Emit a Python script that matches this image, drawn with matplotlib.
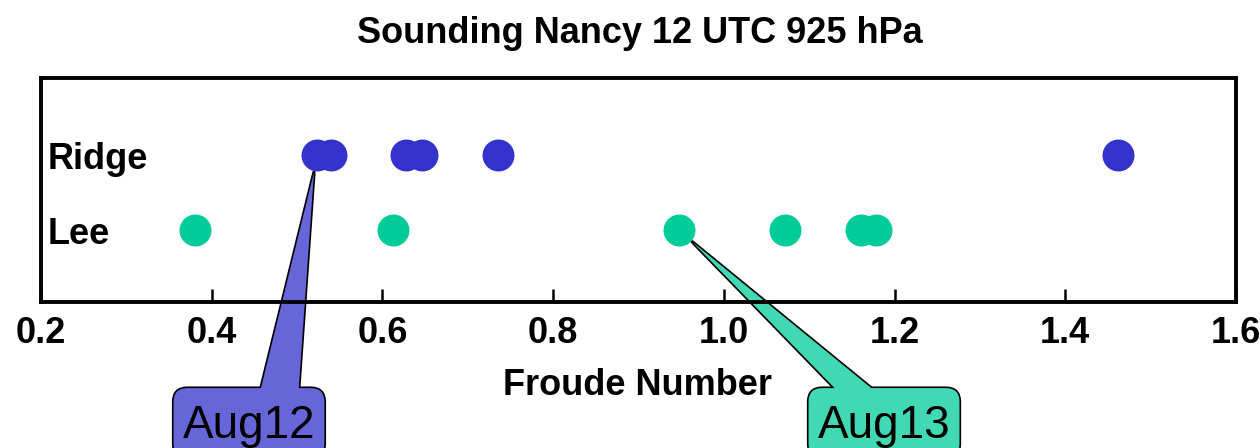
import matplotlib
matplotlib.use('Agg')
import matplotlib.pyplot as plt
from matplotlib.patches import BoxStyle

plt.rcParams['font.family'] = ['Liberation Sans', 'DejaVu Sans']

# Froude numbers from the 12 UTC Nancy sounding (925 hPa)
ridge_fr = [0.523, 0.540, 0.628, 0.646, 0.735, 1.462]
lee_fr = [0.381, 0.612, 0.948, 1.072, 1.161, 1.178]
row_names = ['Lee', 'Ridge']
xticks = [0.2, 0.4, 0.6, 0.8, 1.0, 1.2, 1.4, 1.6]

# highlighted cases: (label, value, row)
case_aug12 = ('Aug12', ridge_fr[0], 2)
case_aug13 = ('Aug13', lee_fr[2], 1)

ridge_col = '#3333CC'
lee_col = '#00CC99'
# callout fills (series colour at 75 % over white)
aug12_fill = '#6666D8'
aug13_fill = '#40D9B3'


class TallRound(BoxStyle.Round):
    """Rounded box with some extra room above the text."""
    def __call__(self, x0, y0, width, height, mutation_size):
        return super().__call__(x0, y0, width, height + 0.15 * mutation_size,
                                mutation_size)


fig = plt.figure(figsize=(12.6, 4.48), dpi=100)
ax = fig.add_axes([0.0325, 0.326, 0.9484, 0.5])

ax.scatter(ridge_fr, [2] * len(ridge_fr), s=530, color=ridge_col, linewidths=0, zorder=3)
ax.scatter(lee_fr, [1] * len(lee_fr), s=530, color=lee_col, linewidths=0, zorder=3)

ax.set_xlim(0.2, 1.6)
ax.set_ylim(0.04, 3.03)
ax.set_xticks(xticks)
ax.set_xticklabels([f'{t:.1f}' for t in xticks], fontsize=26, fontweight='bold')
ax.set_yticks([])
ax.tick_params(axis='x', direction='in', length=9.5, width=1.8, pad=10, top=False)
for sp in ax.spines.values():
    sp.set_linewidth(2.8)

# row names written inside the frame
for i, name in enumerate(row_names):
    ax.text(0.006, i + 1, name, transform=ax.get_yaxis_transform(),
            fontsize=26, fontweight='bold', ha='left', va='center_baseline')

fig.text(0.508, 0.904, 'Sounding Nancy 12 UTC 925 hPa', fontsize=26,
         fontweight='bold', ha='center', va='baseline')
fig.text(0.506, 0.118, 'Froude Number', fontsize=26, fontweight='bold',
         ha='center', va='baseline')


def callout(case, fill, xfrac, relx, tail):
    label, xv, row = case
    # first pass draws the outlines, second pass paints the fill over the
    # inner seam so box and wedge read as one speech bubble
    for ec, lw, z in [('black', 2.4, 2.0), ('none', 0, 2.1)]:
        ax.annotate(label, xy=(xv, row), xycoords='data',
                    xytext=(xfrac, 0.022), textcoords='figure fraction',
                    fontsize=33, ha='center', va='baseline', annotation_clip=False,
                    bbox=dict(boxstyle=TallRound(pad=0.2, rounding_size=0.3),
                              fc=fill, ec=ec, lw=lw),
                    arrowprops=dict(arrowstyle=f'wedge,tail_width={tail}',
                                    fc=fill, ec=ec, lw=lw, patchA=None,
                                    relpos=(relx, 0.5), shrinkA=0, shrinkB=12.5),
                    zorder=z)


callout(case_aug12, aug12_fill, 0.1976, 0.69, 0.96)
callout(case_aug13, aug13_fill, 0.7016, 0.57, 0.68)

fig.savefig('out.png', dpi=100)
plt.close(fig)
